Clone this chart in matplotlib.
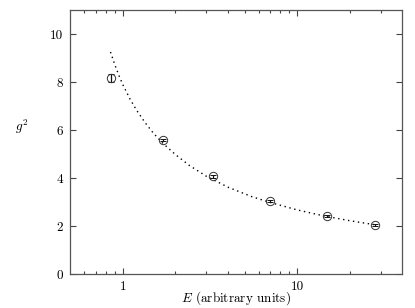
import matplotlib
matplotlib.use("Agg")
import matplotlib.pyplot as plt
from matplotlib.ticker import FixedLocator, NullFormatter

# measured points
energy = [0.85, 1.69, 3.27, 7.0, 14.8, 27.8]
g2 = [8.17, 5.58, 4.08, 3.05, 2.42, 2.05]
g2_err = [0.18, 0.04, 0.06, 0.05, 0.04, 0.03]

# dotted fit curve
fit_energy = [0.85, 0.90, 0.95, 1.0, 1.1, 1.2, 1.35, 1.5, 1.7, 2.0,
              2.4, 3.0, 4.0, 5.5, 7.0, 10.0, 14.0, 20.0, 28.0]
fit_g2 = [9.25, 8.72, 8.27, 7.89, 7.29, 6.82, 6.28, 5.86, 5.44, 4.98,
          4.53, 4.08, 3.62, 3.22, 2.98, 2.67, 2.43, 2.22, 2.05]

xticks = [1, 10]
xticklabels = ["1", "10"]
xminor = [0.6, 0.7, 0.8, 0.9, 2, 3, 4, 5, 6, 7, 8, 9, 20, 30]
yticks = [0, 2, 4, 6, 8, 10]

plt.rcParams['font.family'] = ['cmr10', 'DejaVu Serif']
plt.rcParams['mathtext.fontset'] = 'cm'
plt.rcParams['axes.unicode_minus'] = False
plt.rcParams['axes.formatter.use_mathtext'] = True

fig = plt.figure(figsize=(4.15, 3.08), dpi=100)
ax = fig.add_axes([70.3 / 415, 1 - 274 / 308, 332 / 415, 264 / 308])

ax.plot(fit_energy, fit_g2, color='black', lw=1.0, linestyle=(0, (1, 2.6)))
ax.errorbar(energy, g2, yerr=g2_err, fmt='o', mfc='none', mec='#333333',
            ms=6, mew=0.7, ecolor='#111111', elinewidth=0.9, capsize=2,
            capthick=0.9)

ax.set_xscale('log')
ax.set_xlim(0.5, 40)
ax.set_ylim(0, 11)
ax.xaxis.set_major_locator(FixedLocator(xticks))
ax.set_xticklabels(xticklabels)
ax.xaxis.set_minor_locator(FixedLocator(xminor))
ax.xaxis.set_minor_formatter(NullFormatter())
ax.set_yticks(yticks)
ax.set_yticklabels([str(v) for v in yticks])

for s in ax.spines.values():
    s.set_color('#555555')
    s.set_linewidth(0.9)
ax.tick_params(which='both', direction='in', top=True, right=True,
               color='#444444', labelsize=9.5)
ax.tick_params(which='major', length=4, width=0.8, pad=5)
ax.tick_params(which='minor', length=2.5, width=0.8)

# axis titles placed in figure pixels, as in the reference
fig.text(236 / 415, 1 - 298 / 308, '$E$ (arbitrary units)', fontsize=9.5,
         ha='center', va='center')
fig.text(22 / 415, 1 - 127 / 308, '$g^2$', fontsize=9.5, ha='center', va='center')

fig.savefig('out.png', dpi=100)
